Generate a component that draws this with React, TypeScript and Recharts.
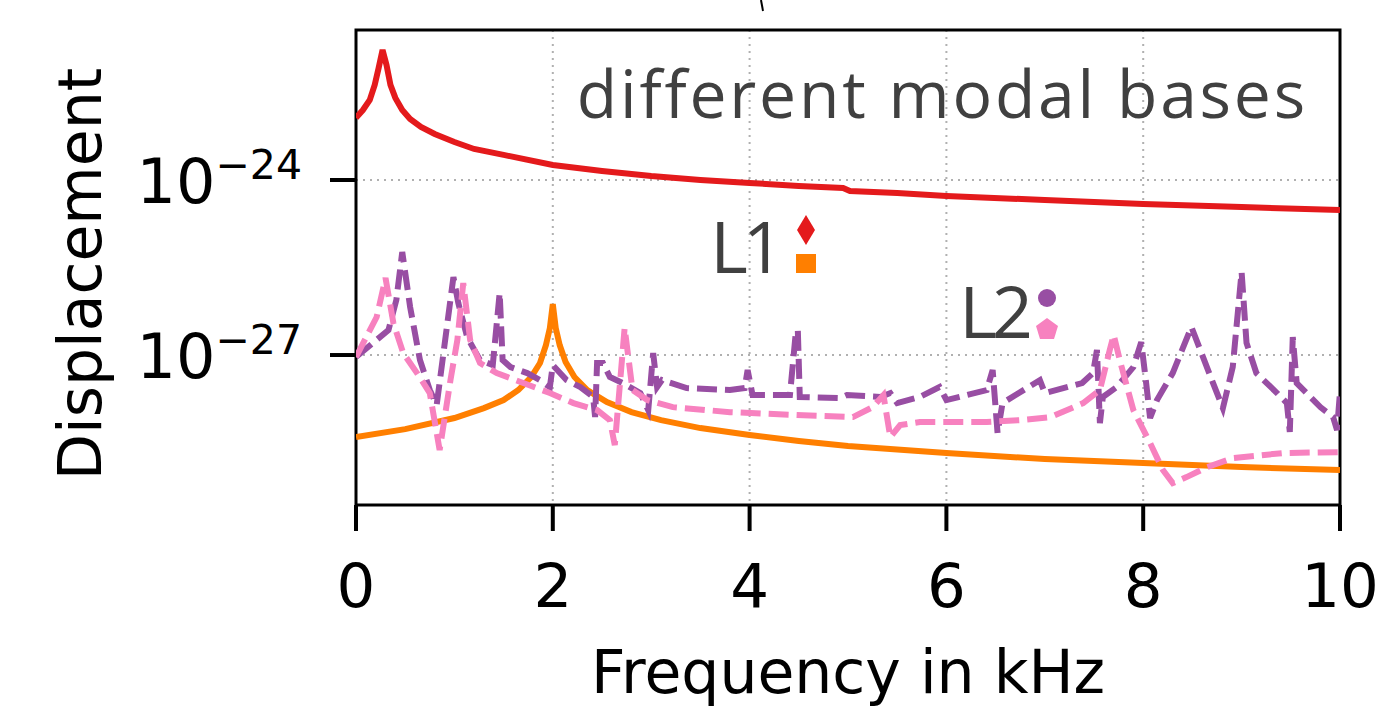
import { LineChart, Line, XAxis, YAxis, CartesianGrid, Customized } from 'recharts';

// frequency in kHz, displacement
const l1Red: [number, number][] = [
  [0, 1.16e-23], [0.07, 1.58e-23], [0.14, 2.36e-23], [0.19, 4.26e-23], [0.23, 8.32e-23],
  [0.27, 1.69e-22], [0.31, 9.37e-23], [0.35, 4.26e-23], [0.4, 2.55e-23], [0.47, 1.58e-23],
  [0.55, 1.11e-23], [0.66, 8.11e-24], [0.8, 6.15e-24], [1.0, 4.48e-24], [1.2, 3.4e-24],
  [1.5, 2.69e-24], [2.0, 1.81e-24], [2.5, 1.43e-24], [3.0, 1.17e-24], [3.5, 1.0e-24],
  [4.0, 8.89e-25], [4.5, 7.89e-25], [4.95, 7.29e-25], [5.02, 6.47e-25], [5.5, 5.98e-25],
  [6.0, 5.32e-25], [7.0, 4.54e-25], [8.0, 3.88e-25], [9.0, 3.44e-25], [10, 3.06e-25],
];

const l1Orange: [number, number][] = [
  [0, 3.93e-29], [0.5, 5.38e-29], [1.0, 8.32e-29], [1.3, 1.23e-28], [1.5, 1.69e-28],
  [1.65, 2.51e-28], [1.78, 4.2e-28], [1.87, 7.29e-28], [1.93, 1.48e-27], [1.97, 2.9e-27],
  [2.0, 7.48e-27], [2.03, 2.9e-27], [2.07, 1.48e-27], [2.13, 7.59e-28], [2.22, 4.2e-28],
  [2.35, 2.51e-28], [2.55, 1.56e-28], [2.8, 1.05e-28], [3.1, 7.67e-29], [3.5, 5.6e-29],
  [4.0, 4.25e-29], [4.5, 3.35e-29], [5.0, 2.75e-29], [6.0, 2.09e-29], [7.0, 1.65e-29],
  [8.0, 1.41e-29], [9.0, 1.2e-29], [10, 1.07e-29],
];

const l2Purple: [number, number][] = [
  [0, 9.25e-28], [0.33, 2.68e-27], [0.41, 8.77e-27], [0.47, 5.83e-26], [0.55, 6.65e-27],
  [0.65, 8.2e-28], [0.75, 2.51e-28], [0.82, 1.39e-28], [0.95, 6.65e-27], [0.99, 2.17e-26],
  [1.04, 7.78e-27], [1.13, 2.03e-27], [1.26, 8.2e-28], [1.39, 6.73e-28], [1.46, 1.16e-26],
  [1.49, 8.2e-28], [1.57, 6.22e-28], [1.74, 4.91e-28], [1.87, 3.72e-28], [1.97, 2.82e-28],
  [2.0, 6.73e-28], [2.14, 3.72e-28], [2.28, 2.82e-28], [2.41, 1.91e-28], [2.43, 8.65e-29],
  [2.45, 7.29e-28], [2.51, 7.29e-28], [2.58, 4.2e-28], [2.71, 3.31e-28], [2.89, 2.23e-28],
  [2.97, 1.14e-28], [3.02, 1.08e-27], [3.06, 2.82e-28], [3.11, 3.72e-28], [3.36, 2.72e-28],
  [3.8, 2.51e-28], [3.95, 2.72e-28], [3.98, 5.53e-28], [4.03, 2.06e-28], [4.41, 2.06e-28],
  [4.47, 2.48e-27], [4.49, 2.68e-27], [4.51, 1.91e-28], [4.92, 1.83e-28], [4.99, 2.06e-28],
  [5.33, 1.91e-28], [5.43, 2.23e-28], [5.5, 1.5e-28], [5.73, 1.91e-28], [5.93, 2.82e-28],
  [6.0, 1.69e-28], [6.41, 2.51e-28], [6.47, 5.53e-28], [6.52, 4.6e-29], [6.57, 1.5e-28],
  [6.95, 3.72e-28], [7.0, 2.23e-28], [7.38, 3.31e-28], [7.49, 4.91e-28], [7.53, 1.22e-27],
  [7.56, 6.82e-29], [7.59, 1.91e-28], [7.73, 2.82e-28], [7.9, 6.22e-28], [7.98, 1.67e-27],
  [8.03, 3.31e-28], [8.07, 8.32e-29], [8.14, 1.69e-28], [8.3, 4.91e-28], [8.49, 3.02e-27],
  [8.58, 1.22e-27], [8.71, 3.31e-28], [8.81, 1.23e-28], [8.91, 6.22e-28], [9.0, 2.65e-26],
  [9.05, 1.61e-27], [9.15, 4.91e-28], [9.36, 2.23e-28], [9.46, 1.5e-28], [9.49, 4.79e-29],
  [9.52, 2.03e-27], [9.56, 3.31e-28], [9.66, 2.23e-28], [9.8, 1.28e-28], [9.93, 8.65e-29],
  [9.97, 5.18e-29], [10, 2.32e-28],
];

const l2Pink: [number, number][] = [
  [0, 9.25e-28], [0.21, 4.48e-27], [0.3, 2.09e-26], [0.38, 3.53e-27], [0.48, 1.08e-27],
  [0.62, 4.91e-28], [0.75, 2.23e-28], [0.85, 2.35e-29], [0.96, 3.72e-28], [1.03, 1.81e-27],
  [1.09, 1.71e-26], [1.16, 1.81e-27], [1.26, 7.29e-28], [1.43, 4.91e-28], [1.7, 3.31e-28],
  [1.97, 2.23e-28], [2.21, 1.5e-28], [2.45, 1.14e-28], [2.58, 7.67e-29], [2.63, 2.86e-29],
  [2.73, 2.9e-27], [2.81, 2.51e-28], [2.96, 1.69e-28], [3.22, 1.28e-28], [3.8, 1.05e-28],
  [4.48, 9.35e-29], [5.05, 8.65e-29], [5.25, 1.28e-28], [5.36, 2.06e-28], [5.43, 3.93e-29],
  [5.53, 6.31e-29], [5.73, 7.1e-29], [6.41, 7.1e-29], [6.75, 7.67e-29], [7.06, 8.65e-29],
  [7.39, 1.5e-28], [7.56, 2.51e-28], [7.66, 1.22e-27], [7.7, 2.2e-27], [7.77, 7.29e-28],
  [7.9, 1.14e-28], [8.07, 3.1e-29], [8.2, 1.07e-29], [8.3, 6.38e-30], [8.44, 8.09e-30],
  [8.65, 1.2e-29], [8.91, 1.71e-29], [9.42, 2.09e-29], [10, 2.17e-29],
];

const xTicks = [0, 2, 4, 6, 8, 10];
const yTicks = [1e-27, 1e-24];
const yDomain = [2.69e-30, 3.72e-22];

const toRows = (pairs: [number, number][]) => pairs.map(([f, v]) => ({ f, v }));

const PLOT = { left: 356, top: 30, right: 1340, bottom: 505 };
const Y_AXIS_W = 60;
const X_AXIS_H = 60;
const TEXT_GREY = '#404040';
const DEJAVU = '"DejaVu Sans", sans-serif';
const ANNOT = '"Open Sans", sans-serif';
const LW = 6;
const DASH = '20 8';

function YTick(props: any) {
  const { y, payload } = props;
  const exp = Math.round(Math.log10(payload.value));
  return (
    <text x={302} y={y + 23} textAnchor="end" fontFamily={DEJAVU} fill="#000">
      <tspan fontSize={62}>10</tspan>
      <tspan fontSize={41} dy={-24}>{`\u2212${Math.abs(exp)}`}</tspan>
    </text>
  );
}

function XTick(props: any) {
  const { x, payload } = props;
  return (
    <text x={x} y={607} textAnchor="middle" fontFamily={DEJAVU} fontSize={61} fill="#000">
      {payload.value}
    </text>
  );
}

function Overlay() {
  return (
    <g>
      <rect
        x={PLOT.left}
        y={PLOT.top}
        width={PLOT.right - PLOT.left}
        height={PLOT.bottom - PLOT.top}
        fill="none"
        stroke="#000"
        strokeWidth={3}
      />
      <path d="M761 0 L763 11" stroke="#000" strokeWidth={2} />
      <text
        x={1308}
        y={118}
        textAnchor="end"
        fontFamily={ANNOT}
        fontSize={66}
        letterSpacing={2.8}
        fill={TEXT_GREY}
      >
        different modal bases
      </text>
      <text x={779} y={273} textAnchor="end" fontFamily={ANNOT} fontSize={72} letterSpacing={-5} fill={TEXT_GREY}>
        L1
      </text>
      <polygon points="806,215 815,230 806,245 797,230" fill="#e41a1c" />
      <rect x={796} y={254} width={20} height={19} fill="#ff7f00" />
      <text x={1028} y={338} textAnchor="end" fontFamily={ANNOT} fontSize={72} letterSpacing={-5} fill={TEXT_GREY}>
        L2
      </text>
      <circle cx={1047} cy={298} r={9} fill="#984ea3" />
      <polygon points="1047,318 1058,326 1054,339 1040,339 1036,326" fill="#f781bf" />
      <text
        x={101}
        y={274}
        transform="rotate(-90 101 274)"
        textAnchor="middle"
        fontFamily={DEJAVU}
        fontSize={60}
        fill="#000"
      >
        Displacement
      </text>
      <text x={848} y={693} textAnchor="middle" fontFamily={DEJAVU} fontSize={60} fill="#000">
        Frequency in kHz
      </text>
    </g>
  );
}

export default function App() {
  return (
    <div style={{ position: 'absolute', left: 0, top: 0, width: 1400, height: 718, background: '#fff' }}>
      <LineChart
        width={1400}
        height={718}
        margin={{
          top: PLOT.top,
          right: 1400 - PLOT.right,
          left: PLOT.left - Y_AXIS_W,
          bottom: 718 - PLOT.bottom - X_AXIS_H,
        }}
      >
        <CartesianGrid stroke="#b0b0b0" strokeDasharray="2 5" strokeWidth={2} />
        <XAxis
          dataKey="f"
          type="number"
          domain={[0, 10]}
          ticks={xTicks}
          allowDataOverflow
          height={X_AXIS_H}
          axisLine={false}
          tickSize={26}
          tickLine={{ stroke: '#000', strokeWidth: 4 }}
          tick={<XTick />}
          interval={0}
        />
        <YAxis
          dataKey="v"
          type="number"
          scale="log"
          domain={yDomain}
          ticks={yTicks}
          allowDataOverflow
          width={Y_AXIS_W}
          axisLine={false}
          tickSize={26}
          tickLine={{ stroke: '#000', strokeWidth: 4 }}
          tick={<YTick />}
          interval={0}
        />
        <Line data={toRows(l1Red)} dataKey="v" stroke="#e41a1c" strokeWidth={LW} dot={false} activeDot={false} isAnimationActive={false} type="linear" />
        <Line data={toRows(l1Orange)} dataKey="v" stroke="#ff7f00" strokeWidth={LW} dot={false} activeDot={false} isAnimationActive={false} type="linear" />
        <Line data={toRows(l2Purple)} dataKey="v" stroke="#984ea3" strokeWidth={LW} strokeDasharray={DASH} dot={false} activeDot={false} isAnimationActive={false} type="linear" />
        <Line data={toRows(l2Pink)} dataKey="v" stroke="#f781bf" strokeWidth={LW} strokeDasharray={DASH} dot={false} activeDot={false} isAnimationActive={false} type="linear" />
        <Customized component={Overlay} />
      </LineChart>
    </div>
  );
}
